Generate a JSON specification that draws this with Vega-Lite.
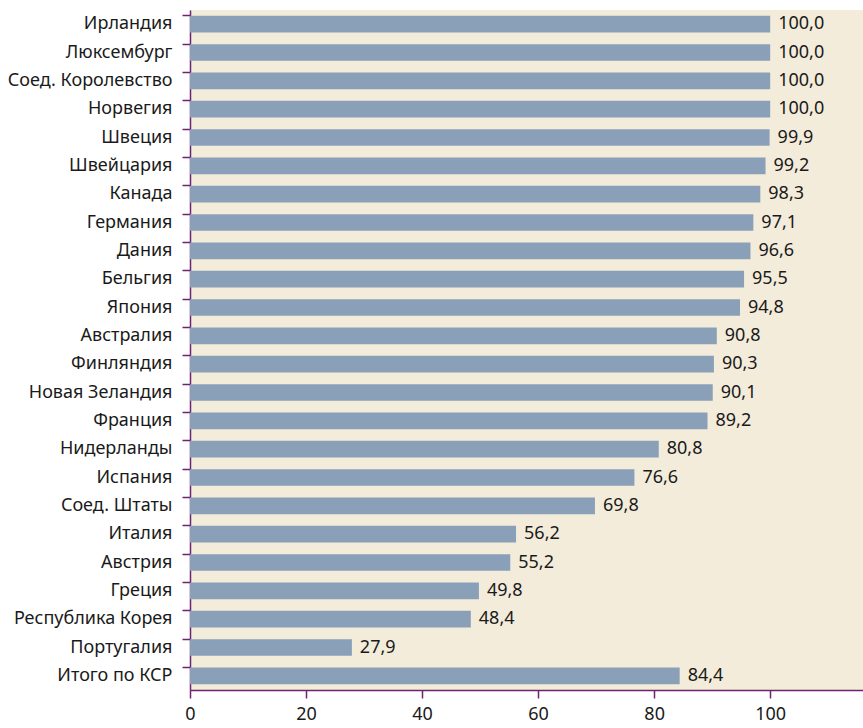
{
  "$schema": "https://vega.github.io/schema/vega-lite/v6.json",
  "width": 673,
  "height": 680,
  "autosize": {"type": "none"},
  "padding": {"left": 190, "top": 10, "right": 0, "bottom": 38},
  "background": "white",
  "config": {
    "view": {"fill": "#f3ecdb", "stroke": null},
    "font": "Noto Sans",
    "locale": {"number": {"decimal": ",", "thousands": " ", "grouping": [3], "currency": ["", ""]}}
  },
  "data": {
    "values": [
      {"country": "Ирландия ", "value": 100.0},
      {"country": "Люксембург", "value": 100.0},
      {"country": "Соед. Королевство", "value": 100.0},
      {"country": "Норвегия", "value": 100.0},
      {"country": "Швеция", "value": 99.9},
      {"country": "Швейцария", "value": 99.2},
      {"country": "Канада", "value": 98.3},
      {"country": "Германия", "value": 97.1},
      {"country": "Дания", "value": 96.6},
      {"country": "Бельгия", "value": 95.5},
      {"country": "Япония", "value": 94.8},
      {"country": "Австралия", "value": 90.8},
      {"country": "Финляндия", "value": 90.3},
      {"country": "Новая Зеландия", "value": 90.1},
      {"country": "Франция", "value": 89.2},
      {"country": "Нидерланды", "value": 80.8},
      {"country": "Испания", "value": 76.6},
      {"country": "Соед. Штаты", "value": 69.8},
      {"country": "Италия", "value": 56.2},
      {"country": "Австрия", "value": 55.2},
      {"country": "Греция", "value": 49.8},
      {"country": "Республика Корея", "value": 48.4},
      {"country": "Португалия", "value": 27.9},
      {"country": "Итого по КСР", "value": 84.4}
    ]
  },
  "encoding": {
    "y": {
      "field": "country",
      "type": "nominal",
      "sort": null,
      "scale": {"paddingInner": 0.41, "paddingOuter": 0.205},
      "axis": {
        "title": null,
        "bandPosition": 0,
        "domainColor": "#6e2370",
        "domainWidth": 1.5,
        "tickColor": "#6e2370",
        "tickWidth": 1.5,
        "tickSize": 8,
        "labelPadding": 10,
        "labelFontSize": 18,
        "labelColor": "#1a1a1a",
        "labelFont": "Noto Sans"
      }
    },
    "x": {
      "field": "value",
      "type": "quantitative",
      "scale": {"domain": [0, 116], "nice": false},
      "axis": {
        "title": null,
        "values": [0, 20, 40, 60, 80, 100],
        "format": "d",
        "grid": false,
        "labelFlush": false,
        "domainColor": "#6e2370",
        "domainWidth": 1.5,
        "tickColor": "#6e2370",
        "tickWidth": 1.5,
        "tickSize": 8,
        "labelPadding": 7,
        "labelFontSize": 18,
        "labelColor": "#1a1a1a",
        "labelFont": "Noto Sans"
      }
    }
  },
  "layer": [
    {"mark": {"type": "bar", "color": "#8a9fb8"}},
    {
      "mark": {"type": "text", "align": "left", "baseline": "middle", "dx": 8, "fontSize": 18, "color": "#1a1a1a", "font": "Noto Sans"},
      "encoding": {"text": {"field": "value", "type": "quantitative", "format": ".1f"}}
    }
  ]
}
